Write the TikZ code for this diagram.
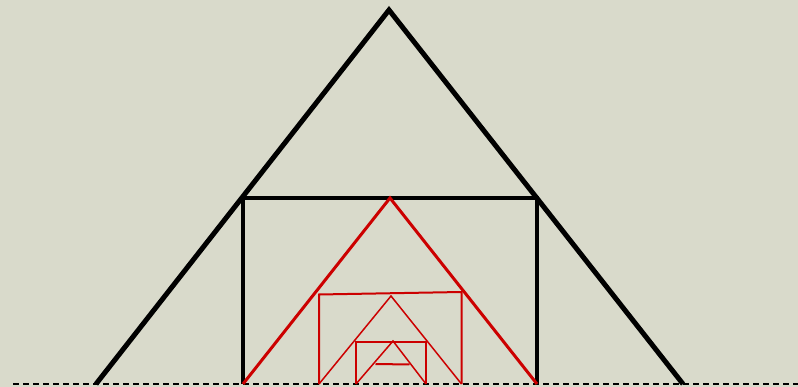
\documentclass[tikz,border=0pt]{standalone}
\definecolor{bg}{RGB}{217,218,203}
\definecolor{rd}{RGB}{204,0,0}
\begin{document}
\begin{tikzpicture}[x=1pt,y=-1pt,
  blk/.style={draw=black,line width=5pt},
  rthick/.style={draw=rd,line width=3pt},
  rmid/.style={draw=rd,line width=2pt},
  rthin/.style={draw=rd,line width=1.5pt},
  base/.style={draw=black,line width=1.3pt,dash pattern=on 6pt off 4pt}]
\fill[bg] (0,0) rectangle (798,387);
\useasboundingbox (0,0) rectangle (798,387);
% baseline
\coordinate (L0) at (13,384);
\coordinate (R0) at (798,384);
\draw[base] (L0) -- (R0);
% big triangle
\coordinate (A) at (389,10);
\coordinate (B) at (96,384);
\coordinate (C) at (683,384);
\draw[blk] (B) -- (A) -- (C);
% black square
\coordinate (S1) at (243,384);
\coordinate (S2) at (243,198);
\coordinate (S3) at (537,198);
\coordinate (S4) at (537,384);
\draw[blk,line width=4pt] (S1) -- (S2) -- (S3) -- (S4);
% red triangle 1
\coordinate (T1) at (390,198);
\draw[rthick] (S1) -- (T1) -- (S4);
% red square 2
\coordinate (Q1) at (319,384);
\coordinate (Q2) at (319,294.5);
\coordinate (Q3) at (461.5,292);
\coordinate (Q4) at (461.5,384);
\draw[rmid] (Q1) -- (Q2) -- (Q3) -- (Q4);
% red triangle 2
\coordinate (T2) at (391,296);
\draw[rthin] (Q1) -- (T2) -- (Q4);
% red square 3
\coordinate (P1) at (356,384);
\coordinate (P2) at (356,342);
\coordinate (P3) at (426,342);
\coordinate (P4) at (426,384);
\draw[rmid] (P1) -- (P2) -- (P3) -- (P4);
% red triangle 3
\coordinate (T3) at (393,341);
\draw[rthin] (P1) -- (T3) -- (P4);
% top of square 4
\coordinate (U1) at (375.5,364);
\coordinate (U2) at (409.5,364.5);
\draw[rmid] (U1) -- (U2);
\end{tikzpicture}
\end{document}
